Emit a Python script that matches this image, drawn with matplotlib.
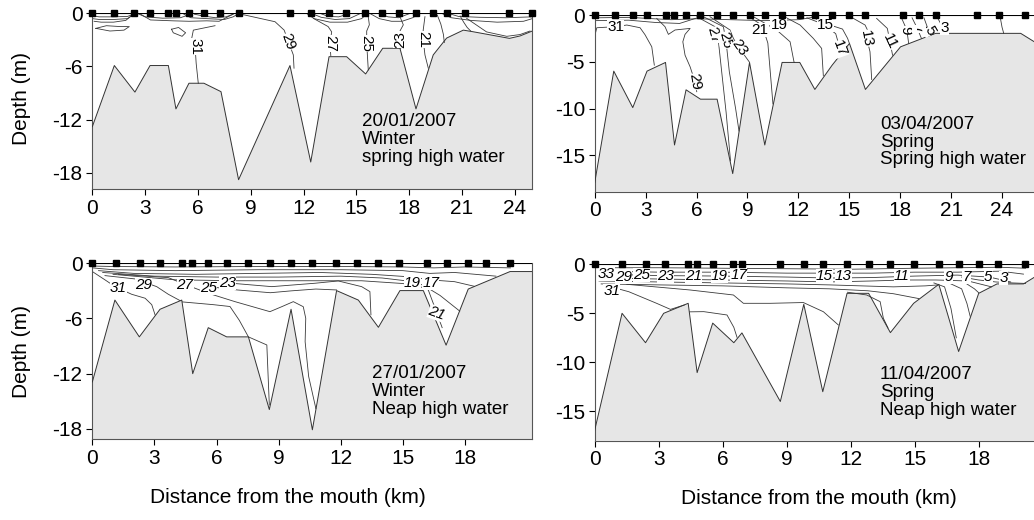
import numpy as np
import matplotlib.pyplot as plt

plt.rcParams['font.family'] = ['Liberation Sans', 'DejaVu Sans']
plt.rcParams['axes.unicode_minus'] = False

# ---------------- 20/01/2007 (winter, spring high water) ----------------
tl_bed_x = [0, 1.25, 2.42, 3.28, 4.32, 4.75, 5.49, 6.34, 7.31, 8.31, 11.23, 12.41, 13.45,
            14.45, 15.53, 16.5, 17.48, 18.39, 19.37, 20.13, 21.08, 21.6, 23.7, 24.3, 25.0]
tl_bed_d = [-12.8, -5.9, -8.9, -5.9, -5.9, -10.8, -7.9, -7.9, -8.85, -18.8, -5.9, -16.8, -4.9,
            -4.9, -6.85, -3.95, -3.95, -10.8, -4.7, -2.8, -1.9, -2.07, -2.83, -2.56, -2.0]
tl_st_x = [0, 1.25, 2.39, 3.28, 4.28, 4.73, 5.49, 6.34, 7.25, 8.31, 11.23, 12.41, 13.45,
           14.43, 15.49, 16.46, 17.44, 18.39, 19.37, 20.16, 21.2, 23.68, 25.0]
# isohalines: (x list, depth list)
tl_iso = [
    ([6.97, 5.74, 5.65, 5.84, 5.9, 6.02], [-1.4, -1.9, -2.8, -3.8, -5.65, -7.9]),
    ([8.3, 8.68, 10.38, 10.9, 11.14, 11.42, 11.46], [-0.05, -0.2, -0.95, -1.9, -3.2, -4.7, -6.2]),
    ([12.56, 13.4, 13.6, 13.5, 13.55], [-0.57, -1.5, -2.1, -3.4, -4.8]),
    ([15.68, 15.74, 15.59, 15.59, 15.68], [-0.38, -1.3, -2.0, -3.4, -6.4]),
    ([17.48, 17.67, 17.48, 17.48, 17.52], [-0.38, -1.3, -2.0, -3.0, -3.95]),
    ([18.9, 18.8, 18.8, 18.9, 19.09], [-0.38, -1.9, -3.0, -4.7, -6.2]),
    ([19.6, 19.8, 19.95, 20.0], [-0.2, -1.2, -2.4, -3.3]),
    ([20.9, 21.1, 21.3, 21.5], [-0.3, -1.0, -1.6, -2.0]),
    ([21.27, 22.4, 23.55, 24.3, 24.87], [-0.57, -2.1, -2.6, -2.4, -2.0]),
    # near-surface layering
    ([0.0, 0.4, 1.2, 2.0, 2.35], [-0.3, -0.4, -0.4, -0.35, -0.1]),
    ([0.0, 0.4, 1.2, 2.0, 2.3], [-0.6, -0.7, -0.7, -0.6, -0.2]),
    ([0.1, 0.5, 1.2, 1.9, 2.2], [-0.9, -1.0, -1.0, -0.8, -0.3]),
    ([0.2, 0.8, 1.6, 2.1, 1.8, 1.0, 0.2], [-1.7, -1.4, -1.5, -1.5, -1.9, -2.0, -1.7]),
    ([2.6, 3.0, 4.0, 5.0, 5.6], [-0.05, -0.4, -0.55, -0.5, -0.1]),
    ([2.7, 3.3, 4.6, 5.5, 6.5, 7.2, 8.0], [-0.05, -0.75, -0.85, -0.9, -0.85, -0.9, -0.1]),
    ([5.2, 5.6, 6.5, 7.5, 8.0, 8.3], [-0.1, -0.5, -0.6, -0.7, -0.4, -0.05]),
    ([5.8, 6.3, 7.0, 7.6, 8.0], [-0.1, -0.3, -0.5, -0.4, -0.1]),
    ([4.5, 4.9, 5.3, 5.1, 4.6, 4.5], [-1.8, -1.6, -2.2, -2.6, -2.2, -1.8]),
    ([12.2, 12.6, 13.5, 14.5, 15.3, 15.6], [-0.05, -0.6, -1.0, -1.0, -0.6, -0.05]),
    ([12.5, 13.0, 13.8, 14.6, 15.2], [-0.05, -0.45, -0.7, -0.6, -0.05]),
    ([13.0, 13.4, 14.0, 14.6], [-0.05, -0.35, -0.4, -0.05]),
    ([15.8, 16.3, 17.0, 17.6, 18.2, 18.6], [-0.05, -0.6, -0.9, -0.9, -0.5, -0.05]),
    ([16.3, 16.8, 17.4, 18.0], [-0.05, -0.4, -0.5, -0.05]),
    ([19.9, 20.4, 21.5, 23.0, 24.5, 25.0], [-0.05, -0.5, -0.8, -1.0, -0.9, -0.6]),
    ([20.3, 20.8, 22.0, 23.5, 25.0], [-0.05, -0.35, -0.45, -0.5, -0.4]),
]
tl_lab = ['31', '29', '27', '25', '23', '21']
tl_lab_x = [5.84, 11.14, 13.5, 15.59, 17.48, 18.8]
tl_lab_d = [-3.8, -3.2, -3.4, -3.4, -3.0, -3.0]
tl_lab_rot = [-90, -70, -90, -90, 90, -90]

# ---------------- 03/04/2007 (spring, spring high water) ----------------
tr_bed_x = [0, 1.12, 2.24, 3.08, 4.17, 4.70, 5.38, 6.23, 7.21, 8.13, 9.12, 10.02, 11.04,
            12.08, 12.97, 13.99, 15.01, 15.95, 18.02, 20.08, 25.1, 25.9]
tr_bed_d = [-17.9, -6.0, -9.9, -6.0, -5.07, -13.9, -8.0, -9.0, -9.0, -16.96, -5.07, -13.9, -5.07,
            -5.07, -7.96, -5.36, -3.04, -7.96, -3.4, -1.96, -1.96, -2.86]
tr_st_x = [0, 1.18, 2.24, 3.08, 4.17, 4.66, 5.38, 6.23, 7.21, 8.13, 9.12, 10.06, 11.04,
           12.08, 12.97, 13.99, 15.01, 15.95, 18.15, 19.1, 20.08, 22.5, 23.85, 25.38]
tr_iso = [
    ([0.02, 0.12, 1.2, 1.89, 2.67, 2.96, 3.36, 3.51], [-2.1, -1.36, -1.25, -1.07, -1.36, -2.1, -3.4, -5.36]),
    ([3.65, 4.14, 4.34, 4.73, 5.62, 5.32, 5.19, 5.32, 5.62, 5.91, 6.01],
     [-0.36, -1.25, -2.07, -1.6, -1.43, -2.07, -2.86, -4.29, -5.54, -7.14, -8.2]),
    ([6.01, 7.09, 7.29, 7.48, 7.74, 8.0], [-0.18, -1.25, -2.86, -6.07, -10.4, -15.6]),
    ([6.4, 7.58, 7.74, 7.93, 8.3, 8.5], [-0.18, -1.25, -2.86, -6.07, -10.0, -12.4]),
    ([6.79, 7.97, 8.17, 8.46, 9.1], [-0.18, -1.6, -2.5, -3.4, -5.0]),
    ([9.0, 9.7, 9.95, 10.2, 10.5], [-0.1, -0.9, -1.6, -3.0, -9.5]),
    ([9.35, 10.72, 11.51, 11.74, 11.76], [-0.18, -1.6, -2.86, -5.0, -5.07]),
    ([11.3, 12.1, 12.88, 13.37, 13.47], [-0.3, -1.07, -2.5, -3.57, -6.5]),
    ([12.5, 13.5, 14.2, 14.45, 14.5], [-0.3, -1.0, -2.0, -3.6, -4.3]),
    ([12.8, 13.57, 14.6, 14.9, 15.0], [-0.2, -0.9, -1.5, -2.5, -3.0]),
    ([15.24, 15.93, 16.12, 16.03, 16.22, 16.32], [-0.36, -1.07, -1.79, -2.5, -3.93, -6.9]),
    ([16.61, 17.24, 17.4, 17.55], [-0.36, -1.43, -2.86, -4.3]),
    ([18.09, 18.39, 18.5], [-0.36, -1.6, -3.05]),
    ([18.7, 19.0, 19.25], [-0.3, -1.4, -2.5]),
    ([19.4, 19.66, 19.8], [-0.3, -1.6, -2.15]),
    ([20.2, 20.54, 20.7], [-0.3, -1.43, -1.96]),
    ([23.9, 24.0, 24.1], [-0.3, -1.3, -1.96]),
    ([0.0, 2.0, 3.5, 4.5, 6.0, 8.0, 10.0, 12.0, 13.0], [-0.3, -0.25, -0.4, -0.5, -0.4, -0.5, -0.6, -0.5, -0.2]),
    ([0.0, 2.0, 3.6, 5.0, 6.3], [-0.6, -0.55, -0.8, -0.9, -0.15]),
]
tr_lab = ['31', '29', '27', '25', '23', '21', '19', '17', '15', '13', '11', '9', '7', '5', '3']
tr_lab_x = [1.25, 5.91, 7.0, 7.7, 8.55, 9.75, 10.85, 14.45, 13.57, 16.03, 17.4, 18.3, 19.1, 19.75, 20.6]
tr_lab_d = [-1.25, -7.14, -2.2, -2.7, -3.5, -1.6, -1.1, -3.6, -1.05, -2.5, -2.86, -1.6, -1.5, -1.7, -1.4]
tr_lab_rot = [0, -80, -75, -75, -55, 0, 0, -70, 0, -80, -65, -90, -90, -60, 0]

# ---------------- 27/01/2007 (winter, neap high water) ----------------
bl_bed_x = [0, 1.09, 2.27, 3.27, 4.32, 4.85, 5.6, 6.49, 7.54, 8.55, 9.6, 10.63, 11.8,
            12.85, 13.82, 14.86, 15.99, 17.09, 18.16, 20.18, 21.25]
bl_bed_d = [-12.9, -4.0, -8.0, -5.0, -4.0, -12.0, -7.0, -8.0, -8.0, -15.9, -5.0, -18.1, -2.97,
            -4.0, -6.96, -2.97, -2.97, -8.9, -2.8, -0.9, -0.9]
bl_st_x = [0, 1.13, 2.3, 3.27, 4.32, 4.83, 5.6, 6.49, 7.54, 8.58, 9.6, 10.6, 11.76,
           12.77, 13.82, 14.82, 16.19, 17.12, 18.16, 19.0, 20.18]
bl_iso = [
    ([0.0, 0.61, 1.1, 1.9, 2.55, 2.87, 3.03], [-0.9, -1.8, -2.54, -3.37, -3.8, -4.5, -5.6]),
    ([0.61, 2.06, 3.11, 3.67, 4.24], [-1.34, -1.7, -2.54, -3.37, -4.06]),
    ([1.26, 3.67, 4.48, 5.6, 6.89, 8.58, 9.15, 9.71, 10.19, 10.31, 10.28, 10.45, 10.8],
     [-1.2, -1.56, -2.3, -3.26, -4.17, -5.26, -4.72, -4.17, -4.72, -5.98, -8.52, -12.3, -15.8]),
    ([4.35, 5.85, 6.65, 7.1, 7.54, 8.43, 8.55], [-4.2, -4.5, -4.7, -6.2, -8.0, -8.88, -15.4]),
    ([5.85, 7.0, 8.6, 9.6, 10.8, 11.8], [-2.6, -2.9, -3.2, -3.0, -2.8, -2.9]),
    ([6.3, 6.73, 8.67, 10.76, 11.88, 13.01, 13.41, 13.46], [-2.0, -2.17, -2.54, -2.17, -1.92, -2.54, -3.08, -5.6]),
    ([1.0, 4.0, 7.0, 10.0, 13.0, 15.0, 15.9, 16.23, 16.56, 16.9], [-1.2, -1.8, -1.9, -1.9, -1.9, -2.2, -2.6, -2.9, -4.9, -7.0]),
    ([0.0, 1.0, 4.0, 8.0, 12.0, 15.0, 16.5, 18.0, 20.2], [-0.3, -0.35, -0.4, -0.35, -0.35, -0.4, -0.5, -0.4, -0.5]),
    ([0.0, 1.0, 4.0, 8.0, 12.0, 15.0, 16.3, 17.5, 18.5, 19.5], [-0.5, -0.7, -0.8, -0.7, -0.7, -0.8, -1.1, -1.0, -1.2, -1.4]),
    ([0.3, 2.0, 5.0, 8.0, 11.0, 13.5, 15.5, 16.3, 17.5, 18.45], [-0.8, -1.1, -1.2, -1.1, -1.0, -1.2, -1.5, -1.8, -2.0, -2.5]),
    ([0.5, 3.0, 6.0, 9.0, 12.0, 14.0, 15.5, 16.0, 16.8, 17.75], [-1.0, -1.4, -1.5, -1.5, -1.4, -1.6, -2.0, -2.4, -3.5, -5.2]),
]
bl_lab = ['31', '29', '27', '25', '23', '19', '17', '21']
bl_lab_x = [1.26, 2.46, 4.48, 5.6, 6.55, 15.45, 16.35, 16.64]
bl_lab_d = [-2.7, -2.36, -2.36, -2.65, -2.1, -2.17, -2.17, -5.43]
bl_lab_rot = [0, 0, 0, 0, 0, 0, 0, -20]

# ---------------- 11/04/2007 (spring, neap high water) ----------------
br_bed_x = [0, 1.28, 2.38, 3.23, 4.38, 4.8, 5.53, 6.52, 6.9, 8.7, 9.8, 10.69, 11.83,
            12.84, 13.86, 14.95, 16.13, 17.06, 18.0, 18.86, 20.1, 20.7]
br_bed_d = [-16.9, -5.0, -8.0, -5.0, -3.98, -11.05, -6.0, -8.0, -7.0, -14.0, -4.08, -13.0, -2.96,
            -2.96, -6.97, -3.98, -2.04, -8.9, -2.96, -2.0, -2.0, -1.2]
br_st_x = [0, 1.28, 2.38, 3.27, 4.38, 4.8, 5.53, 6.47, 6.9, 8.7, 9.8, 10.69, 11.83,
           12.84, 13.86, 14.95, 16.13, 17.06, 18.03, 18.9, 20.19]
br_iso = [
    ([0.6, 1.6, 2.9, 3.55, 4.2], [-2.2, -2.8, -3.98, -4.6, -4.15]),
    ([4.45, 5.11, 6.2, 6.52, 6.67], [-4.85, -4.83, -5.17, -6.43, -7.45]),
    ([1.5, 4.47, 6.5, 6.97, 8.22, 9.78, 10.72, 11.42], [-2.04, -2.62, -3.13, -3.98, -3.98, -3.9, -4.84, -6.19]),
    ([11.85, 12.75, 13.38, 13.53, 13.75], [-2.85, -3.13, -3.81, -5.5, -6.5]),
    ([15.9, 16.4, 16.7, 16.95], [-1.9, -2.3, -4.5, -7.5]),
    ([16.6, 17.2, 17.45, 17.6], [-1.9, -2.5, -4.0, -5.3]),
    ([17.3, 17.8, 18.0], [-1.8, -2.5, -2.9]),
    ([0.5, 3, 6, 9, 12, 15, 17, 19, 20.2], [-0.35, -0.35, -0.4, -0.45, -0.5, -0.4, -0.35, -0.3, -0.4]),
    ([0.4, 3, 6, 9, 11, 13, 15, 17, 19, 20.1], [-0.7, -0.8, -0.8, -0.9, -0.9, -0.9, -0.8, -0.8, -0.7, -1.0]),
    ([0.3, 3, 6, 9, 11, 13, 15, 17, 18.5, 19.5], [-1.0, -1.15, -1.2, -1.3, -1.4, -1.35, -1.2, -1.1, -1.3, -1.8]),
    ([0.2, 3, 6, 9, 11, 13, 14.5, 16, 17.5, 18.6], [-1.4, -1.5, -1.6, -1.7, -1.8, -1.7, -1.6, -1.6, -1.7, -2.3]),
    ([0.2, 3, 6, 9, 11, 12.5, 14, 15.5, 16.1], [-1.7, -1.8, -1.9, -2.0, -2.1, -2.2, -2.3, -2.2, -2.1]),
    ([0.3, 3, 6, 9, 11, 12.8, 14, 15.2], [-2.0, -2.1, -2.2, -2.4, -2.5, -2.7, -3.0, -3.5]),
    ([17.2, 18, 18.8, 19.6, 20.2], [-1.3, -1.6, -1.8, -1.9, -1.95]),
]
br_lab = ['33', '29', '31', '25', '23', '21', '19', '17', '15', '13', '11', '9', '7', '5', '3']
br_lab_x = [0.55, 1.35, 0.8, 2.2, 3.3, 4.62, 5.85, 6.75, 10.75, 11.65, 14.39, 16.58, 17.44, 18.45, 19.16]
br_lab_d = [-0.95, -1.3, -2.7, -1.09, -1.16, -1.16, -1.16, -1.09, -1.16, -1.16, -1.16, -1.26, -1.26, -1.26, -1.36]
br_lab_rot = [0] * 15

panels = [
    (tl_bed_x, tl_bed_d, tl_st_x, tl_iso, tl_lab, tl_lab_x, tl_lab_d, tl_lab_rot,
     '20/01/2007\nWinter\nspring high water', 15.3, -11.3),
    (tr_bed_x, tr_bed_d, tr_st_x, tr_iso, tr_lab, tr_lab_x, tr_lab_d, tr_lab_rot,
     '03/04/2007\nSpring\nSpring high water', 16.8, -10.8),
    (bl_bed_x, bl_bed_d, bl_st_x, bl_iso, bl_lab, bl_lab_x, bl_lab_d, bl_lab_rot,
     '27/01/2007\nWinter\nNeap high water', 13.5, -11.1),
    (br_bed_x, br_bed_d, br_st_x, br_iso, br_lab, br_lab_x, br_lab_d, br_lab_rot,
     '11/04/2007\nSpring\nNeap high water', 13.36, -10.4),
]

fig = plt.figure(figsize=(10.34, 5.2), dpi=100)
boxes = [[0.0893, 0.6365, 0.4255, 0.3379],
         [0.5752, 0.6313, 0.4267, 0.3398],
         [0.0893, 0.1558, 0.4254, 0.3379],
         [0.5752, 0.1525, 0.4270, 0.3392]]
limits = [((0, 25), (-19.85, 0)), ((0, 26), (-18.9, 0)),
          ((0, 21.25), (-19.1, 0)), ((0, 20.7), (-18.0, 0))]
yticks = [[0, -6, -12, -18], [0, -5, -10, -15], [0, -6, -12, -18], [0, -5, -10, -15]]
xticks = [np.arange(0, 25, 3), np.arange(0, 25, 3), np.arange(0, 19, 3), np.arange(0, 19, 3)]

for i, p in enumerate(panels):
    bx, bd, sx, iso, lab, lx, ld, lrot, note, nx, ny = p
    ax = fig.add_axes(boxes[i])
    ax.set_xlim(*limits[i][0])
    ax.set_ylim(*limits[i][1])
    bottom = limits[i][1][0]
    ax.fill_between(bx, bd, bottom, facecolor='#e6e6e6', edgecolor='none', zorder=1)
    ax.plot(bx, bd, color='#333333', lw=0.7, zorder=3)
    for xs, ds in iso:
        ax.plot(xs, ds, color='#3a3a3a', lw=0.6, zorder=2)
    italic = 'italic' if i >= 2 else 'normal'
    for t, x, d, r in zip(lab, lx, ld, lrot):
        ax.text(x, d, t, fontsize=11, rotation=r, ha='center', va='center', style=italic,
                zorder=4, bbox=dict(facecolor='white', edgecolor='none', pad=0.0))
    ax.axhline(0, color='black', lw=0.8, zorder=5)
    ax.plot(sx, np.zeros(len(sx)), 's', color='black', ms=3.8, zorder=6, clip_on=False)
    ax.text(nx, ny, note, fontsize=13.5, va='top', ha='left', linespacing=1.05, zorder=4)
    ax.set_xticks(xticks[i])
    ax.set_yticks(yticks[i])
    ax.tick_params(labelsize=15, direction='out', length=4, width=0.8, pad=3)
    for s in ax.spines.values():
        s.set_linewidth(0.8)
        s.set_color('#555555')
    ax.spines['top'].set_visible(False)

fig.text(0.021, 0.81, 'Depth (m)', rotation=90, fontsize=15, ha='center', va='center')
fig.text(0.021, 0.324, 'Depth (m)', rotation=90, fontsize=15, ha='center', va='center')
fig.text(0.278, 0.044, 'Distance from the mouth (km)', fontsize=15, ha='center', va='center')
fig.text(0.792, 0.042, 'Distance from the mouth (km)', fontsize=15, ha='center', va='center')

fig.savefig('out.png', dpi=100)
